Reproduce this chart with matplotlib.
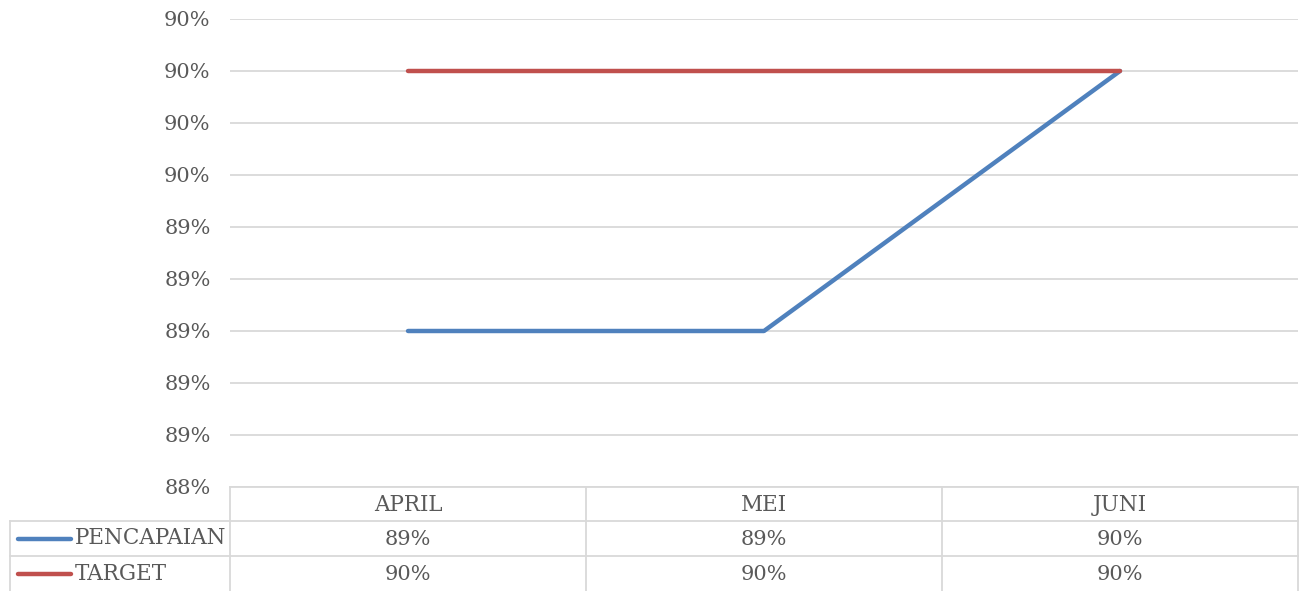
import numpy as np
import matplotlib
matplotlib.use('Agg')
import matplotlib.pyplot as plt
from matplotlib.ticker import FuncFormatter, MultipleLocator

# data
bulan = ['APRIL', 'MEI', 'JUNI']
pencapaian = [0.890, 0.890, 0.900]
target = [0.900, 0.900, 0.900]
seri = ['PENCAPAIAN', 'TARGET']
warna = ['#4f81bd', '#c0504d']

W, H = 1300, 591
grid_col = '#d9d9d9'
text_col = '#595959'
plt.rcParams['font.family'] = ['DejaVu Serif']

fig = plt.figure(figsize=(W / 100, H / 100), dpi=100)

# area plot (pixel)
x0, x1 = 230, 1298
y_top, y_bot = 19, 487
ax = fig.add_axes([x0 / W, 1 - y_bot / H, (x1 - x0) / W, (y_bot - y_top) / H])

xs = np.arange(len(bulan))
for vals, c in zip([pencapaian, target], warna):
    ax.plot(xs, vals, color=c, lw=3.2, solid_capstyle='round', zorder=3)

ax.set_xlim(-0.5, len(bulan) - 0.5)
ax.set_ylim(0.884, 0.902)
ax.yaxis.set_major_locator(MultipleLocator(0.002))
ax.yaxis.set_major_formatter(FuncFormatter(lambda v, p: f'{v * 100:.0f}%'))
ax.grid(axis='y', color=grid_col, lw=1.3)
ax.set_xticks([])
for s in ax.spines.values():
    s.set_visible(False)
ax.tick_params(axis='y', length=0, pad=14, labelsize=15, labelcolor=text_col)

# tabel data di bawah
ov = fig.add_axes([0, 0, 1, 1])
ov.set_xlim(0, W)
ov.set_ylim(H, 0)
ov.axis('off')
ov.patch.set_alpha(0)

col_w = (x1 - x0) / len(bulan)
rows_y = [487, 521, 556, 591]
left = 10

# garis tabel
for yy in rows_y[:3]:
    ov.plot([x0 if yy == 487 else left, x1], [yy, yy], color=grid_col, lw=1.3)
for i in range(len(bulan) + 1):
    ov.plot([x0 + i * col_w] * 2, [rows_y[0], H], color=grid_col, lw=1.3)
ov.plot([left, left], [rows_y[1], H], color=grid_col, lw=1.3)

fs = 15.5
for i, b in enumerate(bulan):
    cx = x0 + (i + 0.5) * col_w
    ov.text(cx, (rows_y[0] + rows_y[1]) / 2 + 1, b, ha='center', va='center',
            fontsize=fs, color=text_col)
    for r, vals in enumerate([pencapaian, target]):
        cy = (rows_y[r + 1] + rows_y[r + 2]) / 2
        ov.text(cx, cy + 1, f'{vals[i] * 100:.0f}%', ha='center', va='center',
                fontsize=15, color=text_col)

for r, (nama, c) in enumerate(zip(seri, warna)):
    cy = (rows_y[r + 1] + rows_y[r + 2]) / 2
    ov.plot([18, 71], [cy, cy], color=c, lw=3.2, solid_capstyle='round')
    ov.text(75, cy, nama, ha='left', va='center', fontsize=fs, color=text_col)

fig.savefig('out.png', dpi=100)
